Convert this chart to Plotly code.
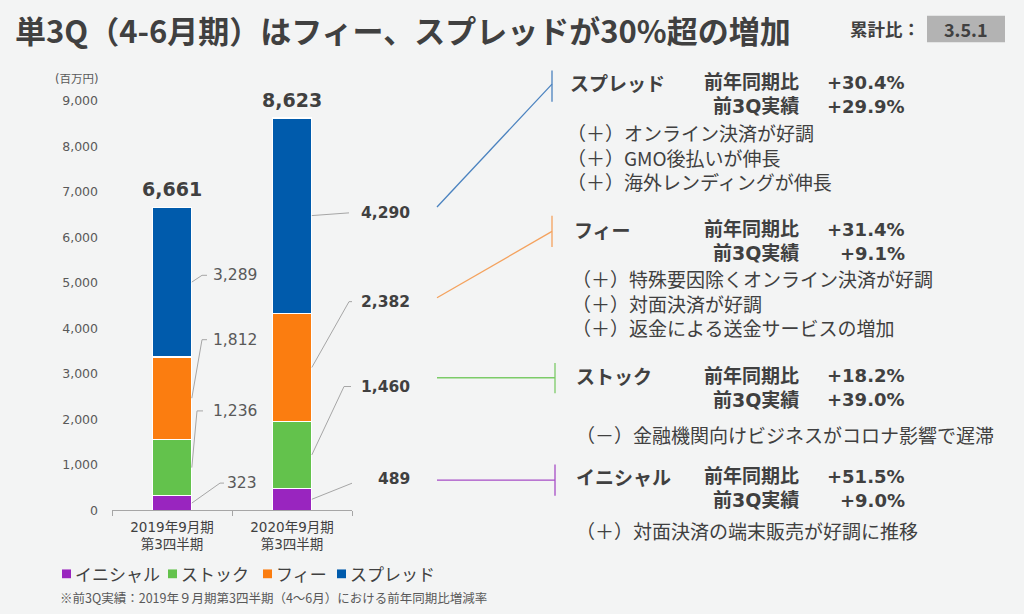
import plotly.graph_objects as go

# ---------------- data ----------------
categories = ["2019年9月期<br>第3四半期", "2020年9月期<br>第3四半期"]
series_names = ["イニシャル", "ストック", "フィー", "スプレッド"]
initial = [323, 489]
stock = [1236, 1460]
fee = [1812, 2382]
spread = [3289, 4290]
totals = [6661, 8623]
y_ticks = [0, 1000, 2000, 3000, 4000, 5000, 6000, 7000, 8000, 9000]

right_names = ["スプレッド", "フィー", "ストック", "イニシャル"]
yoy_rates = ["+30.4%", "+31.4%", "+18.2%", "+51.5%"]
prev3q_rates = ["+29.9%", "+9.1%", "+39.0%", "+9.0%"]
comments = [
    ["（＋）オンライン決済が好調", "（＋）GMO後払いが伸長", "（＋）海外レンディングが伸長"],
    ["（＋）特殊要因除くオンライン決済が好調", "（＋）対面決済が好調", "（＋）返金による送金サービスの増加"],
    ["（－）金融機関向けビジネスがコロナ影響で遅滞"],
    ["（＋）対面決済の端末販売が好調に推移"],
]
title_text = "単3Q（4-6月期）はフィー、スプレッドが30%超の増加"
footnote_text = "※前3Q実績：2019年９月期第3四半期（4～6月）における前年同期比増減率"

# ---------------- style ----------------
W, H = 1024, 614
BG = "#f3f4f4"
TXT = "#404040"
TXT2 = "#595959"
CJK = "Noto Sans CJK JP"
LAT = "DejaVu Sans, Noto Sans CJK JP"
colors = ["#9925bf", "#63c24c", "#fb7d10", "#005bac"]
conn_colors = ["#4a82bf", "#f4a25e", "#7ccb68", "#a64dc6"]

PLOT_L, PLOT_R = 112, 352
Y0_PX, YTOP_PX = 515, 95
YMAX = 9000
BAR_W = 0.33


def px(x):
    return x / W


def py(y):
    return 1 - y / H


def yv(ypx):
    return (Y0_PX - ypx) * YMAX / (Y0_PX - YTOP_PX)


def xv(xpx):
    return (xpx - PLOT_L) / ((PLOT_R - PLOT_L) / len(categories)) - 0.5


fig = go.Figure()
series = [initial, stock, fee, spread]
for name, vals, c in zip(series_names, series, colors):
    fig.add_trace(go.Bar(
        x=categories, y=vals, name=name, width=BAR_W,
        marker=dict(color=c, line=dict(color="white", width=1.2)),
        hoverinfo="y+name",
    ))

shapes = []
annotations = []

# ---- segment value labels with leader lines ----
# label layout (pixels): (elbow_x, elbow_y, end_x, text_right_x) per segment
label_layout = [
    [(220, 487, 224, 259), (197, 413, 203, 259), (202, 340, 207, 259), (202, 274, 207, 259)],
    [(362, 483, 362, 412), (344, 388, 351, 412), (349, 301, 354, 412), (349, 210, 349, 412)],
]
for ci in range(len(categories)):
    base = 0
    for si, vals in enumerate(series):
        v = vals[ci]
        mid = base + v / 2
        base += v
        ex, ey, endx, tx = label_layout[ci][si]
        x0 = ci + BAR_W / 2
        path = f"M {x0},{mid} L {xv(ex)},{yv(ey)} L {xv(endx)},{yv(ey)}"
        shapes.append(dict(type="path", xref="x", yref="y", path=path,
                           line=dict(color="#a6a6a6", width=1)))
        bold = ci == 1
        annotations.append(dict(
            x=px(tx), y=py(ey), xref="paper", yref="paper",
            xanchor="right", yanchor="middle", showarrow=False,
            text=(f"<b>{v:,}</b>" if bold else f"{v:,}"),
            font=dict(family=LAT, size=15.5, color=TXT if bold else TXT2),
        ))

# ---- totals ----
for ci, t in enumerate(totals):
    annotations.append(dict(
        x=categories[ci], y=sum(s[ci] for s in series), xref="x", yref="y",
        xanchor="center", yanchor="bottom", yshift=5, showarrow=False,
        text=f"<b>{t:,}</b>", font=dict(family=LAT, size=19, color=TXT),
    ))

# ---- connectors to right text ----
conn = [
    [(437, 204), (552, 78)],
    [(437, 297), (552, 229)],
    [(437, 379), (555, 379)],
    [(437, 484), (555, 484)],
]
vticks = [(552, 64, 96), (552, 213, 245), (555, 364, 395), (555, 468, 500)]
for (p0, p1), (vx, vy0, vy1), c in zip(conn, vticks, conn_colors):
    shapes.append(dict(type="line", xref="paper", yref="paper",
                       x0=px(p0[0]), y0=py(p0[1]), x1=px(p1[0]), y1=py(p1[1]),
                       line=dict(color=c, width=1.3)))
    shapes.append(dict(type="line", xref="paper", yref="paper",
                       x0=px(vx), y0=py(vy0), x1=px(vx), y1=py(vy1),
                       line=dict(color=c, width=1.3)))

# ---- right text blocks ----
header_y = [76, 227, 377, 480]
name_x = [568, 572, 574, 574]
bullet_y0 = [128, 278, 437, 536]
bullet_x = [565, 570, 574, 574]
BUL_SIZE = 19
BUL_DY = 1.3 * BUL_SIZE
ROW_DY = 24.5
for i in range(4):
    hy = header_y[i]
    annotations.append(dict(x=px(name_x[i]), y=py(hy), xref="paper", yref="paper",
                            xanchor="left", yanchor="middle", showarrow=False,
                            text=f"<b>{right_names[i]}</b>",
                            font=dict(family=CJK, size=19, color=TXT)))
    for row, (lab, val) in enumerate([("前年同期比", yoy_rates[i]), ("前3Q実績", prev3q_rates[i])]):
        yy = hy + row * ROW_DY
        annotations.append(dict(x=px(801), y=py(yy), xref="paper", yref="paper",
                                xanchor="right", yanchor="middle", showarrow=False,
                                text=f"<b>{lab}</b>",
                                font=dict(family=LAT, size=19, color=TXT)))
        annotations.append(dict(x=px(907), y=py(yy), xref="paper", yref="paper",
                                xanchor="right", yanchor="middle", showarrow=False,
                                text=f"<b>{val}</b>",
                                font=dict(family=LAT, size=18, color=TXT)))
    n = len(comments[i])
    annotations.append(dict(x=px(bullet_x[i]), y=py(bullet_y0[i] + (n - 1) / 2 * BUL_DY),
                            xref="paper", yref="paper",
                            xanchor="left", yanchor="middle", align="left", showarrow=False,
                            text="<br>".join(comments[i]),
                            font=dict(family=CJK, size=BUL_SIZE, color=TXT)))

# ---- title & badge ----
annotations.append(dict(x=px(13), y=py(22), xref="paper", yref="paper",
                        xanchor="left", yanchor="middle", showarrow=False,
                        text=f"<b>{title_text}</b>",
                        font=dict(family=CJK, size=31, color=TXT)))
annotations.append(dict(x=px(922), y=py(21), xref="paper", yref="paper",
                        xanchor="right", yanchor="middle", showarrow=False,
                        text="<b>累計比：</b>", font=dict(family=CJK, size=17.5, color=TXT)))
shapes.append(dict(type="rect", xref="paper", yref="paper",
                   x0=px(927), x1=px(1005), y0=py(8), y1=py(35),
                   fillcolor="#b3b3b3", line=dict(width=0)))
annotations.append(dict(x=px(966), y=py(21.5), xref="paper", yref="paper",
                        xanchor="center", yanchor="middle", showarrow=False,
                        text="<b>3.5.1</b>", font=dict(family=CJK, size=18, color=TXT)))

# ---- unit label ----
annotations.append(dict(x=px(100), y=py(73), xref="paper", yref="paper",
                        xanchor="right", yanchor="middle", showarrow=False,
                        text="(百万円)", font=dict(family=LAT, size=11.5, color=TXT2)))

# ---- legend (manual) ----
leg_sq_x = [62, 168, 263, 337]
LEG_Y = 580
for name, c, lx in zip(series_names, colors, leg_sq_x):
    shapes.append(dict(type="rect", xref="paper", yref="paper",
                       x0=px(lx), x1=px(lx + 9), y0=py(LEG_Y - 4.5), y1=py(LEG_Y + 4.5),
                       fillcolor=c, line=dict(width=0)))
    annotations.append(dict(x=px(lx + 11), y=py(LEG_Y), xref="paper", yref="paper",
                            xanchor="left", yanchor="middle", showarrow=False,
                            text=name, font=dict(family=CJK, size=17, color=TXT)))

# ---- footnote ----
annotations.append(dict(x=px(58), y=py(604), xref="paper", yref="paper",
                        xanchor="left", yanchor="middle", showarrow=False,
                        text=footnote_text, font=dict(family=CJK, size=12.5, color=TXT2)))

fig.update_layout(
    autosize=True, margin=dict(l=0, r=0, t=0, b=0),
    paper_bgcolor=BG, plot_bgcolor=BG,
    barmode="stack", showlegend=False,
    xaxis=dict(domain=[px(PLOT_L), px(PLOT_R)], type="category", range=[-0.5, 1.5],
               showline=True, linecolor="#a6a6a6", linewidth=1,
               ticks="outside", tickson="boundaries", ticklen=5, tickcolor="#a6a6a6",
               ticklabelstandoff=4,
               tickfont=dict(family=LAT, size=13.5, color=TXT),
               showgrid=False, zeroline=False, fixedrange=True),
    yaxis=dict(domain=[py(Y0_PX), py(YTOP_PX)], range=[0, YMAX],
               tickvals=y_ticks, ticktext=[f"{v:,}" for v in y_ticks],
               showgrid=False, zeroline=False, showline=False,
               ticklabelstandoff=13,
               tickfont=dict(family=LAT, size=12.5, color=TXT2), fixedrange=True),
    shapes=shapes, annotations=annotations,
)

fig.write_html(
    "out.html",
    default_width="100vw",
    default_height="100vh",
    config={"displayModeBar": False},
    post_script=(
        "document.documentElement.style.margin='0px';"
        "document.documentElement.style.overflow='hidden';"
        "document.body.style.margin='0px';"
        "document.body.style.overflow='hidden';"
        "window.dispatchEvent(new Event('resize'));"
    ),
)
